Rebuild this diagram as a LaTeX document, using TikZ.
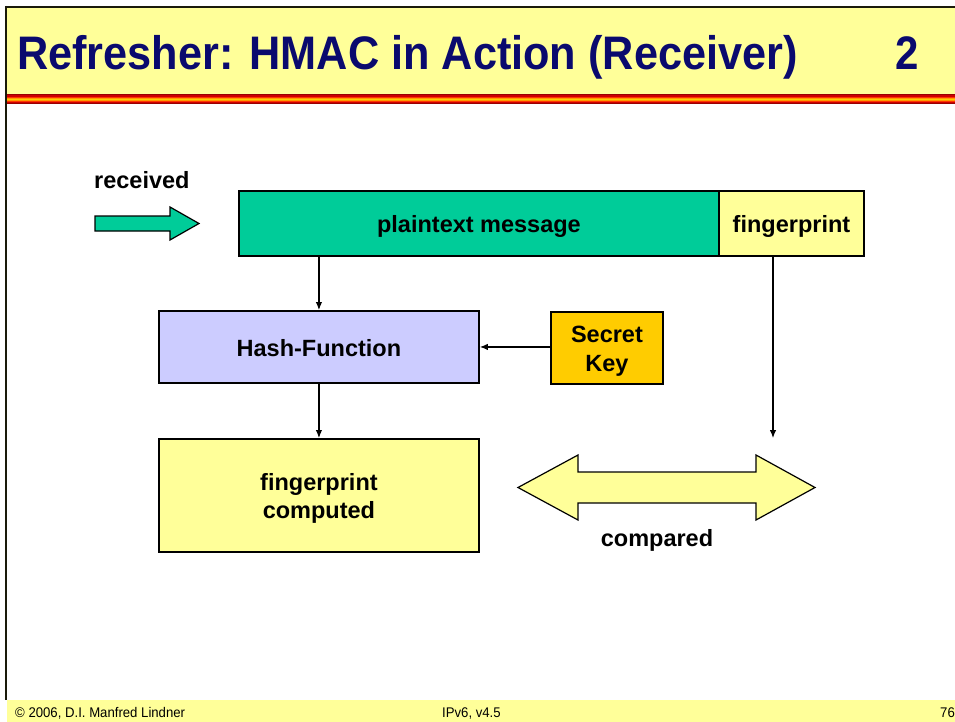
\documentclass[tikz,border=0pt]{standalone}
\usepackage{fontspec}
\setmainfont{Liberation Sans}
\usetikzlibrary{arrows.meta,positioning}
\definecolor{paleyellow}{HTML}{FFFF99}
\definecolor{msggreen}{HTML}{00CC99}
\definecolor{hashblue}{HTML}{CCCCFF}
\definecolor{keygold}{HTML}{FFCC00}
\definecolor{titlenavy}{HTML}{0A0A6E}
\definecolor{frameline}{HTML}{1A1A0A}
% box captions sit slightly below the geometric centre
\newcommand\boxtext[1]{\raisebox{-3.5pt}[\height][\depth]{\begin{tabular}{@{}c@{}}#1\end{tabular}}}
\tikzset{
  box/.style={draw=black, line width=1.9pt, inner sep=0pt, anchor=north west,
    font=\fontsize{23.5}{28.5}\selectfont\bfseries, align=center},
  flow/.style={-{Latex[length=8pt,width=6.5pt]}, line width=1.1pt},
  label/.style={font=\fontsize{23.5}{28.5}\selectfont\bfseries, inner sep=0pt},
  blockarrow/.style={draw=black, line width=1.2pt, line join=miter},
  footer/.style={anchor=base west, inner sep=0pt, font=\fontsize{14}{16}\selectfont},
}
\begin{document}
\begin{tikzpicture}[x=1pt,y=-1pt]
\useasboundingbox (0,0) rectangle (955,722);
\fill[white] (0,0) rectangle (955,722);

% title bar
\fill[paleyellow] (6,8) rectangle (955,94);
\node[anchor=base west, inner sep=0pt, text=titlenavy,
  font=\fontsize{42}{48}\selectfont\bfseries] (title) at (17,70)
  {\scalebox{1.03}[1.12]{Refresher: HMAC in Action (Receiver)}};
\node[anchor=base east, inner sep=0pt, text=titlenavy,
  font=\fontsize{42}{48}\selectfont\bfseries] (num) at (919,70)
  {\scalebox{1.0}[1.12]{2}};

% coloured rule under the title
\foreach \c/\a/\b in {990000/94/95.5, CC0000/95.5/97, FF3300/97/98.5, FF9900/98.5/99.5,
                      FFCC00/99.5/100.5, FF9900/100.5/101.5, FF3300/101.5/102.5,
                      CC0000/102.5/103.5, 990000/103.5/104.5}
  {\definecolor{band}{HTML}{\c}\fill[band] (6,\a) rectangle (955,\b);}

% frame lines
\draw[frameline, line width=2pt] (5,7) -- (955,7);
\draw[frameline, line width=2pt] (6,6) -- (6,700);

% footer band
\fill[paleyellow] (7,700) rectangle (955,722);
\node[footer] (foot1) at (15,717) {\scalebox{0.94}[1]{© 2006, D.I. Manfred Lindner}};
\node[footer] (foot2) at (442,717) {\scalebox{0.94}[1]{IPv6, v4.5}};
\node[footer] (foot3) at (940,717) {\scalebox{0.94}[1]{76}};

% incoming arrow
\node[label, anchor=base west] (recv) at (94,189) {received};
\draw[blockarrow, fill=msggreen]
  (95,216) -- (170,216) -- (170,207) -- (199,223.5) -- (170,240) -- (170,231) -- (95,231) -- cycle;

% message and its fingerprint
\node[box, fill=msggreen, minimum width=480pt, minimum height=65pt] (msg) at (238,190) {\boxtext{plaintext message}};
\node[box, fill=paleyellow, minimum width=145pt, minimum height=65pt] (fp) at (718,190) {\boxtext{fingerprint}};

% hash function and secret key
\node[box, fill=hashblue, minimum width=320pt, minimum height=72pt] (hash) at (158,310) {\boxtext{Hash-Function}};
\node[box, fill=keygold, minimum width=112pt, minimum height=72pt] (key) at (550,311) {\boxtext{Secret\\Key}};

% computed fingerprint
\node[box, fill=paleyellow, minimum width=320pt, minimum height=113pt] (comp) at (158,438) {\boxtext{fingerprint\\computed}};

% comparison arrow
\draw[blockarrow, fill=paleyellow]
  (518,487.5) -- (578,455) -- (578,472) -- (756,472) -- (756,455) -- (815,487.5)
  -- (756,520) -- (756,503) -- (578,503) -- (578,520) -- cycle;
\coordinate (cmp) at (773,438);
\node[label] (cmplabel) at (657,540) {compared};

% connectors
\draw[flow] (msg.south -| hash.north) -- (hash.north);
\draw[flow] (key.west |- hash.east) -- (hash.east);
\draw[flow] (hash.south) -- (comp.north);
\draw[flow] (fp.south -| cmp) -- (cmp);
\end{tikzpicture}
\end{document}
